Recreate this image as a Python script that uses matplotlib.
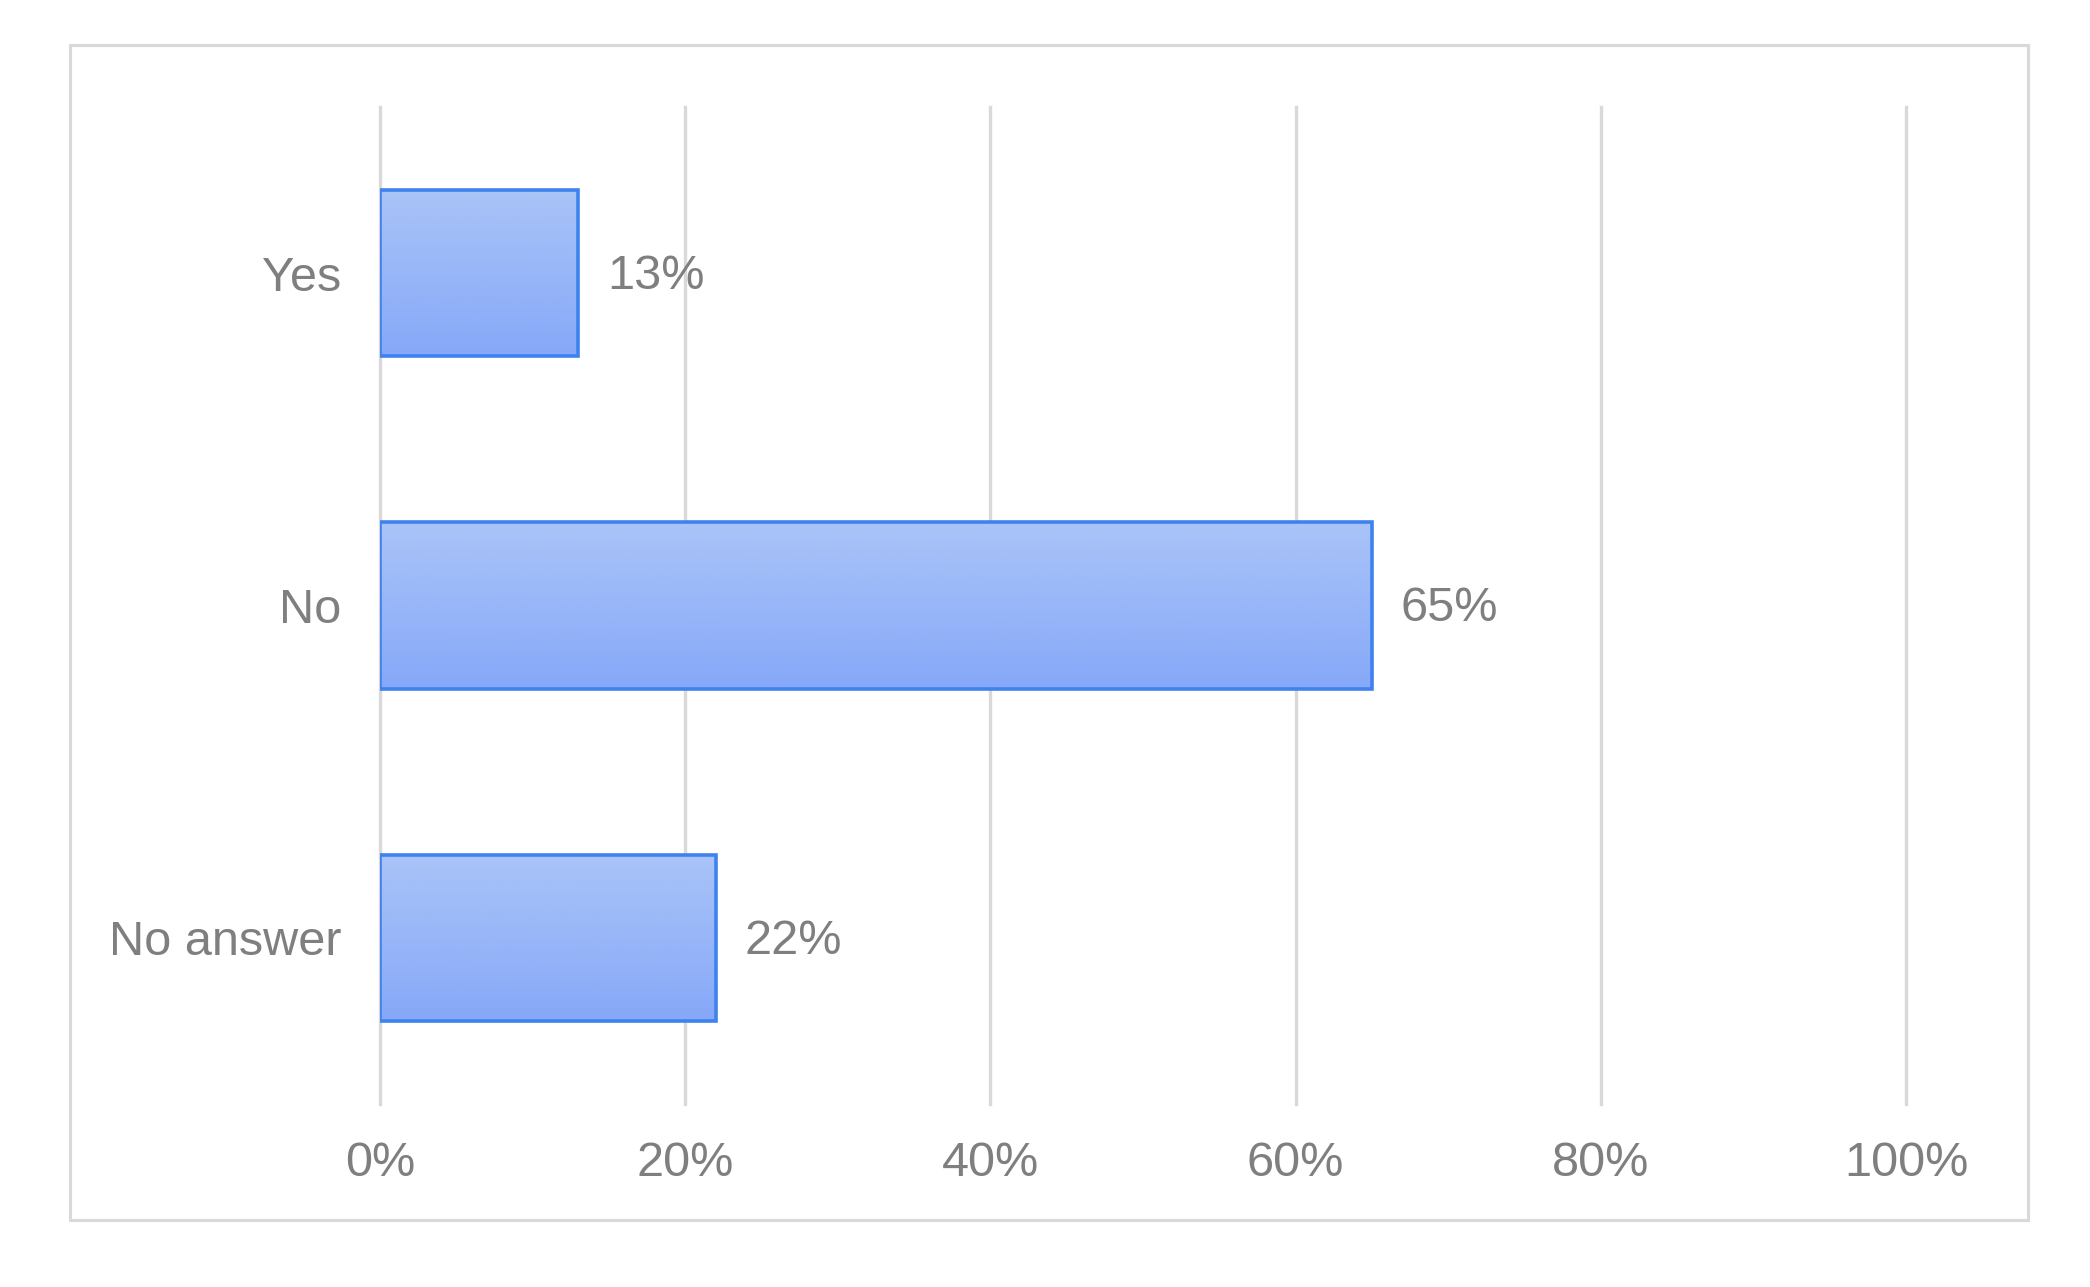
import numpy as np
import matplotlib.pyplot as plt
from matplotlib.patches import Rectangle
from matplotlib.colors import LinearSegmentedColormap

# data
categories = ['Yes', 'No', 'No answer']
values = [13, 65, 22]
xticks = [0, 20, 40, 60, 80, 100]

plt.rcParams['font.family'] = ['Liberation Sans', 'DejaVu Sans']
text_col = '#7f7f7f'
grid_col = '#d9d9d9'

fig = plt.figure(figsize=(20.9, 12.87), dpi=100)
ax = fig.add_axes([0.1818, 0.1422, 0.912 - 0.1818, 0.9169 - 0.1422])

# outer frame
fig.patches.append(Rectangle((70 / 2090, 1 - 1220 / 1287), (2028 - 70) / 2090, (1220 - 45) / 1287,
                             transform=fig.transFigure, fill=False, edgecolor=grid_col, linewidth=2.2))

ypos = np.arange(len(categories))
h = 0.5
bars = ax.barh(ypos, values, height=h, facecolor='none', edgecolor='#3f82ee', linewidth=2.6, zorder=3)

# gradient fill (light at top, darker at bottom)
grad = np.linspace(0, 1, 100).reshape(-1, 1)
cmap = LinearSegmentedColormap.from_list('g', ['#aac4f8', '#86a8f8'])
for y, v in zip(ypos, values):
    ax.imshow(grad, cmap=cmap, aspect='auto', extent=(0, v, y + h / 2, y - h / 2),
              origin='upper', zorder=2, interpolation='bicubic')
    ax.text(v + 1.9, y + 0.01, f'{v}%', va='center', ha='left', fontsize=35, color=text_col)

ax.set_xlim(0, 100)
ax.set_ylim(len(categories) - 0.5, -0.5)
ax.set_yticks(ypos)
ax.set_yticklabels(categories)
ax.set_xticks(xticks)
ax.set_xticklabels([f'{t}%' for t in xticks])
ax.tick_params(axis='both', length=0, labelsize=35, labelcolor=text_col)
ax.tick_params(axis='y', pad=28)
ax.tick_params(axis='x', pad=27)
ax.grid(axis='x', color=grid_col, linewidth=2.4, zorder=1)
for gl in ax.get_xgridlines():
    gl.set_clip_on(False)
ax.set_axisbelow(True)
for s in ax.spines.values():
    s.set_visible(False)

fig.savefig('out.png', dpi=100)
